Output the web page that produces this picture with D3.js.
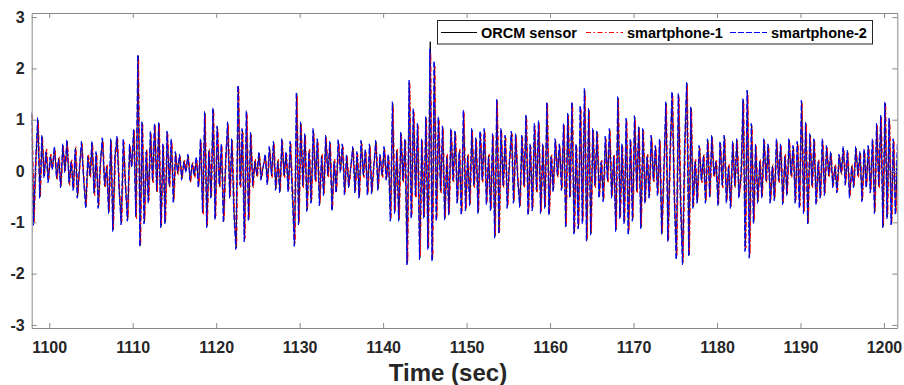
<!DOCTYPE html>
<html>
<head>
<meta charset="utf-8">
<script src="https://cdn.jsdelivr.net/npm/d3@7"></script>
<style>
  body { margin: 0; background: #fff; }
  svg text { font-family: "Liberation Sans", Arial, Helvetica, sans-serif; font-weight: bold; }
</style>
</head>
<body>
<div id="chart"></div>
<script>
// sample times: start and step (sec); phones are slightly out of sync
const timeStart = 1097.9;
const timeStep = 0.25;
const phone1Lag = 0.06;
const phone2Lag = -0.05;

// ORCM sensor, 4 samples per second
const orcm = [
  1.12, -1.02, 0.2, 1.0,   -0.5, 0.67, -0.1, 0.4,   -0.2, 0.3, 0.05, 0.45,   -0.15, 0.25, -0.3, 0.5,
  0.0, 0.58, -0.25, 0.2,   -0.35, 0.45, -0.5, 0.1,   0.55, -0.2, -0.7, 0.3,   -0.1, 0.55, -0.45, 0.35,
  -0.7, 0.2, 0.62, -0.3,   0.1, -0.8, 0.6, -1.15,   0.3, 0.65, -0.4, -1.02,   0.6, -0.3, -0.95, 0.5,
  0.1, 0.8, -0.9, 2.25,   -1.45, 0.93, -1.0, 0.4,   -0.6, 0.75, -0.2, 0.9,   -0.4, 0.93, -1.08, 0.5,
  -1.0, 0.75, -0.3, 0.6,   -0.6, 0.35, -0.05, 0.3,   -0.15, 0.2, 0.0, 0.3,   -0.2, 0.15, -0.1, 0.25,
  -0.3, 0.6, -0.82, 1.13,   -1.08, 0.4, -0.5, 1.2,   -0.92, 0.85, -0.3, 0.5,   -0.98, 0.2, 0.93, -0.5,
  0.6, -0.8, -1.5, 1.65,   -0.3, 0.8, -1.35, 1.15,   -0.95, 0.73, -0.3, 0.2,   -0.1, 0.35, -0.15, 0.1,
  0.3, -0.24, 0.45, -0.1,   0.55, -0.35, 0.2, -0.4,   0.6, -0.1, 0.35, -0.38,   0.55, -0.45, -1.44, 1.51,
  -1.02, 0.93, -0.3, 0.7,   -0.76, 0.4, -0.6, 0.8,   -0.2, 0.6, -0.65, 0.3,   -0.45, 0.67, -0.1, 0.55,
  -0.75, 0.2, -0.4, 0.58,   0.0, 0.5, -0.44, 0.3,   -0.3, 0.1, 0.45, -0.4,   0.35, -0.5, 0.57, -0.1,
  0.4, -0.45, 0.5, -0.42,   0.1, 0.57, -0.35, 0.3,   -0.1, 0.45, -0.15, 0.3,   -0.95, 1.32, -0.8, 0.4,
  -0.95, 0.73, -0.2, 0.6,   -1.8, 1.74, -0.9, 1.19,   -0.5, 0.9, -1.7, 0.6,   -0.9, 1.03, -1.5, 2.52,
  -1.73, 2.1, -0.95, 1.03,   -0.4, 0.85, -0.93, 0.3,   -0.83, 0.8, -0.2, 0.75,   -0.6, 0.4, -0.83, 1.16,
  -0.75, 0.3, -0.65, 0.8,   -0.3, 0.62, -0.8, 0.75,   -0.2, 0.8, -0.63, 0.3,   -0.75, 0.7, -1.28, 1.38,
  -1.2, 0.8, -0.3, 0.67,   -0.7, 0.2, 0.75, -0.6,   0.7, -0.2, -0.68, 0.67,   -0.3, 1.06, -0.83, 0.5,
  -0.75, 0.9, -0.4, 0.95,   -0.8, 0.5, -0.7, 1.32,   -0.83, 0.3, -0.37, 0.6,   -0.1, 0.5, -0.35, 0.9,
  -1.08, 1.1, -0.5, 1.32,   -1.2, 0.5, -1.1, 1.25,   -1.0, 1.58, -1.35, 1.19,   -1.22, 0.8, -0.3, 0.75,
  -0.5, 0.2, -0.57, 0.65,   -0.2, 0.8, -0.5, 0.3,   -1.15, 1.42, -0.9, 0.5,   -1.0, 1.0, -1.22, 0.6,
  -0.95, 1.05, -0.4, 0.85,   -1.1, 0.8, -0.6, 0.3,   -0.5, 0.67, -0.2, 0.47,   -0.45, 0.6, -1.22, 0.0,
  1.32, -1.35, 0.4, 1.52,   -0.5, -1.7, 1.48, -0.6,   -1.8, 0.5, 1.71, -1.64,   1.22, -0.7, 0.2, -0.6,
  0.47, -0.2, 0.3, -0.6,   0.6, -0.5, 0.67, -0.1,   0.2, -0.65, 0.55, -0.3,   0.67, -0.6, 0.1, -0.7,
  0.55, -0.3, 0.6, -0.5,   -0.1, 1.38, -1.54, 1.55,   -1.67, 0.9, -1.0, 0.5,   -0.6, 0.2, -0.5, 0.6,
  -0.2, 0.5, -0.6, 0.1,   -0.55, 0.6, -0.2, 0.5,   -0.63, 0.3, -0.45, 0.6,   -0.1, 0.47, -0.6, 0.55,
  -0.7, 1.35, -0.8, 0.93,   -1.02, 0.7, -0.3, 0.6,   -0.63, 0.2, -0.5, 0.6,   -0.45, 0.47, -0.1, 0.35,
  -0.3, 0.1, -0.4, 0.3,   -0.05, 0.45, -0.25, 0.38,   -0.5, 0.1, -0.3, 0.45,   -0.1, 0.35, -0.57, 0.4,
  -0.3, 0.47, -0.4, 0.6,   -0.8, 0.9, -0.3, 1.06,   -1.08, 1.32, -0.9, 1.0,   -1.02, 0.6, -0.83, 0.5
];

// smartphone-1
const phone1 = [
  1.08, -0.98, 0.24, 0.96,   -0.46, 0.63, -0.06, 0.43,   -0.17, 0.33, 0.08, 0.42,   -0.18, 0.28, -0.26, 0.47,
  0.03, 0.55, -0.28, 0.23,   -0.32, 0.48, -0.46, 0.13,   0.52, -0.23, -0.66, 0.33,   -0.13, 0.52, -0.48, 0.32,
  -0.66, 0.23, 0.58, -0.33,   0.13, -0.76, 0.57, -1.11,   0.27, 0.62, -0.43, -0.98,   0.57, -0.33, -0.91, 0.47,
  0.13, 0.77, -0.94, 2.19,   -1.41, 0.9, -0.96, 0.43,   -0.57, 0.72, -0.23, 0.86,   -0.43, 0.9, -1.04, 0.47,
  -0.96, 0.72, -0.33, 0.57,   -0.57, 0.32, -0.08, 0.27,   -0.12, 0.23, 0.03, 0.27,   -0.23, 0.18, -0.13, 0.22,
  -0.27, 0.57, -0.86, 1.09,   -1.04, 0.43, -0.47, 1.16,   -0.88, 0.82, -0.33, 0.47,   -0.94, 0.23, 0.9, -0.47,
  0.57, -0.76, -1.46, 1.6,   -0.33, 0.77, -1.31, 1.11,   -0.91, 0.7, -0.33, 0.23,   -0.13, 0.32, -0.12, 0.13,
  0.27, -0.21, 0.42, -0.13,   0.52, -0.32, 0.23, -0.37,   0.57, -0.13, 0.32, -0.35,   0.52, -0.42, -1.4, 1.47,
  -0.98, 0.9, -0.33, 0.67,   -0.72, 0.43, -0.57, 0.76,   -0.23, 0.57, -0.62, 0.33,   -0.42, 0.63, -0.13, 0.52,
  -0.71, 0.23, -0.37, 0.55,   0.03, 0.47, -0.41, 0.27,   -0.27, 0.13, 0.42, -0.37,   0.32, -0.47, 0.53, -0.13,
  0.37, -0.42, 0.47, -0.39,   0.13, 0.53, -0.32, 0.27,   -0.13, 0.42, -0.12, 0.27,   -0.91, 1.28, -0.77, 0.43,
  -0.91, 0.7, -0.23, 0.57,   -1.76, 1.7, -0.86, 1.15,   -0.53, 0.87, -1.66, 0.57,   -0.86, 1.0, -1.46, 2.3,
  -1.69, 2.04, -0.91, 1.0,   -0.43, 0.82, -0.9, 0.33,   -0.8, 0.77, -0.23, 0.72,   -0.57, 0.43, -0.8, 1.12,
  -0.72, 0.33, -0.62, 0.77,   -0.33, 0.59, -0.77, 0.72,   -0.23, 0.77, -0.6, 0.33,   -0.72, 0.67, -1.24, 1.34,
  -1.16, 0.77, -0.33, 0.64,   -0.67, 0.23, 0.72, -0.57,   0.67, -0.23, -0.65, 0.64,   -0.33, 1.02, -0.8, 0.47,
  -0.72, 0.87, -0.43, 0.91,   -0.77, 0.47, -0.67, 1.28,   -0.8, 0.33, -0.34, 0.57,   -0.13, 0.47, -0.32, 0.87,
  -1.04, 1.06, -0.47, 1.28,   -1.16, 0.47, -1.06, 1.21,   -0.96, 1.53, -1.31, 1.15,   -1.18, 0.77, -0.33, 0.72,
  -0.47, 0.23, -0.54, 0.62,   -0.23, 0.77, -0.47, 0.33,   -1.11, 1.38, -0.86, 0.47,   -0.96, 0.97, -1.18, 0.57,
  -0.91, 1.01, -0.43, 0.82,   -1.06, 0.77, -0.57, 0.33,   -0.47, 0.64, -0.23, 0.44,   -0.42, 0.57, -1.18, 0.03,
  1.28, -1.31, 0.43, 1.48,   -0.53, -1.66, 1.44, -0.57,   -1.76, 0.47, 1.66, -1.6,   1.18, -0.67, 0.23, -0.57,
  0.44, -0.23, 0.33, -0.57,   0.57, -0.47, 0.64, -0.13,   0.23, -0.62, 0.52, -0.33,   0.64, -0.57, 0.13, -0.67,
  0.52, -0.33, 0.57, -0.47,   -0.13, 1.34, -1.5, 1.5,   -1.63, 0.87, -0.96, 0.47,   -0.57, 0.23, -0.47, 0.57,
  -0.23, 0.47, -0.57, 0.13,   -0.52, 0.57, -0.23, 0.47,   -0.6, 0.33, -0.42, 0.57,   -0.13, 0.44, -0.57, 0.52,
  -0.67, 1.31, -0.77, 0.9,   -0.98, 0.67, -0.33, 0.57,   -0.6, 0.23, -0.47, 0.57,   -0.42, 0.44, -0.13, 0.32,
  -0.27, 0.13, -0.37, 0.27,   -0.08, 0.42, -0.22, 0.35,   -0.47, 0.13, -0.27, 0.42,   -0.13, 0.32, -0.54, 0.37,
  -0.27, 0.44, -0.37, 0.57,   -0.77, 0.87, -0.33, 1.02,   -1.04, 1.28, -0.86, 0.97,   -0.98, 0.57, -0.8, 0.47
];

// smartphone-2
const phone2 = [
  1.15, -1.06, 0.17, 1.04,   -0.54, 0.7, -0.13, 0.37,   -0.23, 0.27, 0.02, 0.48,   -0.12, 0.22, -0.33, 0.53,
  -0.03, 0.61, -0.22, 0.17,   -0.38, 0.42, -0.53, 0.07,   0.58, -0.17, -0.73, 0.27,   -0.07, 0.58, -0.42, 0.38,
  -0.73, 0.17, 0.65, -0.27,   0.07, -0.83, 0.63, -1.18,   0.33, 0.68, -0.37, -1.05,   0.63, -0.27, -0.98, 0.53,
  0.07, 0.83, -0.87, 2.27,   -1.48, 0.96, -1.03, 0.37,   -0.63, 0.78, -0.17, 0.93,   -0.37, 0.96, -1.11, 0.53,
  -1.03, 0.78, -0.27, 0.63,   -0.63, 0.38, -0.02, 0.33,   -0.18, 0.17, -0.03, 0.33,   -0.17, 0.12, -0.07, 0.28,
  -0.33, 0.63, -0.79, 1.16,   -1.11, 0.37, -0.53, 1.23,   -0.95, 0.88, -0.27, 0.53,   -1.01, 0.17, 0.96, -0.53,
  0.63, -0.83, -1.53, 1.67,   -0.27, 0.83, -1.38, 1.18,   -0.98, 0.76, -0.27, 0.17,   -0.07, 0.38, -0.18, 0.07,
  0.33, -0.27, 0.48, -0.07,   0.58, -0.38, 0.17, -0.43,   0.63, -0.07, 0.38, -0.41,   0.58, -0.48, -1.47, 1.54,
  -1.05, 0.96, -0.27, 0.73,   -0.79, 0.37, -0.63, 0.83,   -0.17, 0.63, -0.68, 0.27,   -0.48, 0.7, -0.07, 0.58,
  -0.78, 0.17, -0.43, 0.61,   -0.03, 0.53, -0.47, 0.33,   -0.33, 0.07, 0.48, -0.43,   0.38, -0.53, 0.6, -0.07,
  0.43, -0.48, 0.53, -0.45,   0.07, 0.6, -0.38, 0.33,   -0.07, 0.48, -0.18, 0.33,   -0.98, 1.35, -0.83, 0.37,
  -0.98, 0.76, -0.17, 0.63,   -1.83, 1.77, -0.93, 1.22,   -0.47, 0.93, -1.73, 0.63,   -0.93, 1.06, -1.53, 2.38,
  -1.76, 2.15, -0.98, 1.06,   -0.37, 0.88, -0.96, 0.27,   -0.86, 0.83, -0.17, 0.78,   -0.63, 0.37, -0.86, 1.19,
  -0.78, 0.27, -0.68, 0.83,   -0.27, 0.65, -0.83, 0.78,   -0.17, 0.83, -0.66, 0.27,   -0.78, 0.73, -1.31, 1.41,
  -1.23, 0.83, -0.27, 0.7,   -0.73, 0.17, 0.78, -0.63,   0.73, -0.17, -0.71, 0.7,   -0.27, 1.09, -0.86, 0.53,
  -0.78, 0.93, -0.37, 0.98,   -0.83, 0.53, -0.73, 1.35,   -0.86, 0.27, -0.4, 0.63,   -0.07, 0.53, -0.38, 0.93,
  -1.11, 1.13, -0.53, 1.35,   -1.23, 0.53, -1.13, 1.28,   -1.03, 1.61, -1.38, 1.22,   -1.25, 0.83, -0.27, 0.78,
  -0.53, 0.17, -0.6, 0.68,   -0.17, 0.83, -0.53, 0.27,   -1.18, 1.45, -0.93, 0.53,   -1.03, 1.03, -1.25, 0.63,
  -0.98, 1.08, -0.37, 0.88,   -1.13, 0.83, -0.63, 0.27,   -0.53, 0.7, -0.17, 0.5,   -0.48, 0.63, -1.25, -0.03,
  1.35, -1.38, 0.37, 1.55,   -0.47, -1.73, 1.51, -0.63,   -1.83, 0.53, 1.74, -1.67,   1.25, -0.73, 0.17, -0.63,
  0.5, -0.17, 0.27, -0.63,   0.63, -0.53, 0.7, -0.07,   0.17, -0.68, 0.58, -0.27,   0.7, -0.63, 0.07, -0.73,
  0.58, -0.27, 0.63, -0.53,   -0.07, 1.41, -1.57, 1.58,   -1.7, 0.93, -1.03, 0.53,   -0.63, 0.17, -0.53, 0.63,
  -0.17, 0.53, -0.63, 0.07,   -0.58, 0.63, -0.17, 0.53,   -0.66, 0.27, -0.48, 0.63,   -0.07, 0.5, -0.63, 0.58,
  -0.73, 1.38, -0.83, 0.96,   -1.05, 0.73, -0.27, 0.63,   -0.66, 0.17, -0.53, 0.63,   -0.48, 0.5, -0.07, 0.38,
  -0.33, 0.07, -0.43, 0.33,   -0.02, 0.48, -0.28, 0.41,   -0.53, 0.07, -0.33, 0.48,   -0.07, 0.38, -0.6, 0.43,
  -0.33, 0.5, -0.43, 0.63,   -0.83, 0.93, -0.27, 1.09,   -1.11, 1.35, -0.93, 1.03,   -1.05, 0.63, -0.86, 0.53
];

const seriesNames = ["ORCM sensor", "smartphone-1", "smartphone-2"];
const xTicks = [1100, 1110, 1120, 1130, 1140, 1150, 1160, 1170, 1180, 1190, 1200];
const yTicks = [-3, -2, -1, 0, 1, 2, 3];

const W = 904, H = 385;
const plot = { left: 31.7, right: 897.3, top: 13, bottom: 328 };

const x = d3.scaleLinear().domain([1097.9, 1201.6]).range([plot.left, plot.right]);
const y = d3.scaleLinear().domain([-3.06, 3.08]).range([plot.bottom, plot.top]);

const svg = d3.select("#chart").append("svg")
  .attr("width", W)
  .attr("height", H);

svg.append("defs").append("clipPath").attr("id", "clip")
  .append("rect")
  .attr("x", plot.left).attr("y", plot.top)
  .attr("width", plot.right - plot.left)
  .attr("height", plot.bottom - plot.top);

const series = [
  { name: seriesNames[0], values: orcm, lag: 0, color: "#000000", dash: null },
  { name: seriesNames[1], values: phone1, lag: phone1Lag, color: "#ff0000", dash: "5,2.5,1.5,2.5" },
  { name: seriesNames[2], values: phone2, lag: phone2Lag, color: "#0000ff", dash: "6,2" }
];

const lines = svg.append("g").attr("clip-path", "url(#clip)");
series.forEach(s => {
  const line = d3.line()
    .x((d, i) => x(timeStart + s.lag + i * timeStep))
    .y(d => y(d));
  lines.append("path")
    .datum(s.values)
    .attr("fill", "none")
    .attr("stroke", s.color)
    .attr("stroke-width", 1)
    .attr("stroke-dasharray", s.dash)
    .attr("d", line);
});

// axes box, MATLAB style with inside ticks on all sides
const axisColor = "#8a8a8a";
const tickLen = 5;
const plain = d => String(d);

const xAxisBottom = d3.axisBottom(x).tickValues(xTicks).tickFormat(plain).tickSizeInner(-tickLen).tickSizeOuter(0).tickPadding(14);
const xAxisTop = d3.axisTop(x).tickValues(xTicks).tickSizeInner(-tickLen).tickSizeOuter(0).tickFormat("");
const yAxisLeft = d3.axisLeft(y).tickValues(yTicks).tickFormat(plain).tickSizeInner(-tickLen).tickSizeOuter(0).tickPadding(7);
const yAxisRight = d3.axisRight(y).tickValues(yTicks).tickSizeInner(-tickLen).tickSizeOuter(0).tickFormat("");

function styleAxis(g) {
  g.select(".domain").attr("stroke", axisColor);
  g.selectAll(".tick line").attr("stroke", axisColor);
  g.selectAll(".tick text")
    .attr("fill", "#262626")
    .style("font-size", "16px")
    .style("font-weight", "bold");
}

svg.append("g").attr("transform", `translate(0,${plot.bottom})`).call(xAxisBottom).call(styleAxis);
svg.append("g").attr("transform", `translate(0,${plot.top})`).call(xAxisTop).call(styleAxis);
svg.append("g").attr("transform", `translate(${plot.left},0)`).call(yAxisLeft).call(styleAxis);
svg.append("g").attr("transform", `translate(${plot.right},0)`).call(yAxisRight).call(styleAxis);

svg.append("text")
  .attr("x", 448)
  .attr("y", 381)
  .attr("text-anchor", "middle")
  .attr("fill", "#262626")
  .style("font-size", "24px")
  .text("Time (sec)");

// legend
const legend = svg.append("g");
legend.append("rect")
  .attr("x", 437.5).attr("y", 20.5)
  .attr("width", 435).attr("height", 23.5)
  .attr("fill", "#fff")
  .attr("stroke", "#262626")
  .attr("stroke-width", 1);

const legendItems = [
  { x0: 441, x1: 477, tx: 481 },
  { x0: 586, x1: 623, tx: 627 },
  { x0: 730, x1: 767, tx: 771 }
];

series.forEach((s, i) => {
  const it = legendItems[i];
  legend.append("line")
    .attr("x1", it.x0).attr("x2", it.x1)
    .attr("y1", 32.5).attr("y2", 32.5)
    .attr("stroke", s.color)
    .attr("stroke-width", 1)
    .attr("stroke-dasharray", s.dash);
  legend.append("text")
    .attr("x", it.tx)
    .attr("y", 37.5)
    .attr("fill", "#000")
    .style("font-size", "14.5px")
    .text(s.name);
});
</script>
</body>
</html>
